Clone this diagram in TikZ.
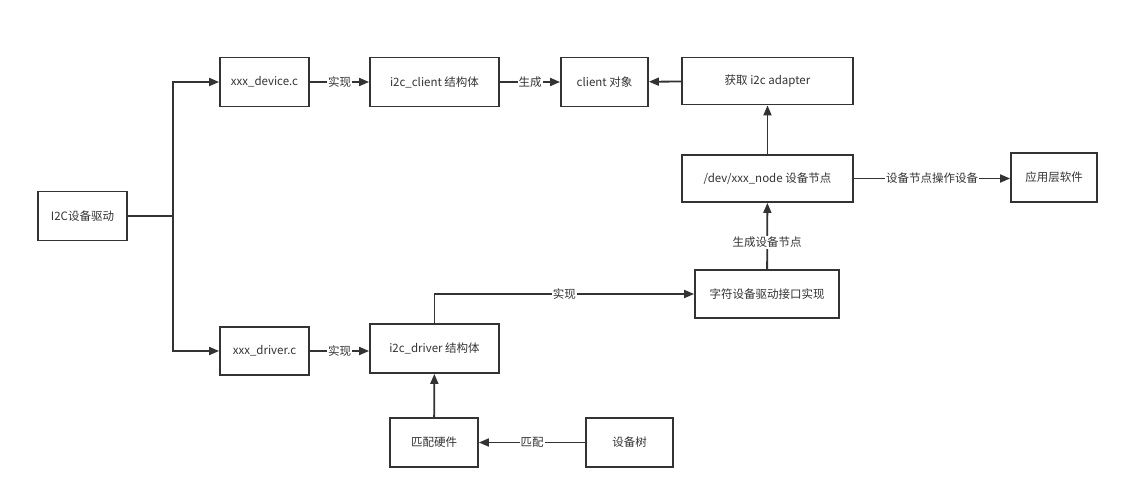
\documentclass[tikz,border=0pt]{standalone}
\usepackage{fontspec}
\setmainfont{Noto Sans CJK SC}
\usepackage{tikz}
\usetikzlibrary{arrows.meta}
\usetikzlibrary{positioning}
\definecolor{inkgray}{HTML}{333333}

\begin{document}
\begin{tikzpicture}[x=1pt, y=-1pt, >={Triangle[length=10pt,width=8pt]},
		box/.style={draw=inkgray, line width=1.8pt, minimum width=89pt, minimum height=49pt, inner sep=0pt, text=inkgray},
		link/.style={->, draw=inkgray, line width=1.8pt},
		lbl/.style={fill=white, inner sep=1pt, text=inkgray}]
			\useasboundingbox (0,0) rectangle (1130,489);
			\fontsize{11.5pt}{13pt}\selectfont
			\node[box] (Drv) at (82.5,216) {I2C设备驱动};
			\node[box] (DevC) at (264.5,82) {xxx\_device.c};
			\node[box, minimum width=129pt] (Client) at (434.5,82) {i2c\_client 结构体};
			\node[box, minimum width=87pt] (ClientObj) at (604.5,82) {client 对象};
			\node[box, minimum width=171pt, minimum height=47pt] (Adapter) at (767.5,81) {获取 i2c adapter};
			\node[box, minimum width=171pt, minimum height=47pt] (DevNode) at (767.5,178.5) {/dev/xxx\_node 设备节点};
			\node[box, minimum width=86pt] (App) at (1054,177.5) {应用层软件};
			\node[box, minimum width=144pt, minimum height=48pt] (CharDev) at (767,294) {字符设备驱动接口实现};
			\node[box, minimum height=48pt] (DrvC) at (264.5,351) {xxx\_driver.c};
			\node[box, minimum width=129pt] (I2cDrv) at (434.5,348.5) {i2c\_driver 结构体};
			\node[box, minimum width=88pt] (Match) at (434,442.5) {匹配硬件};
			\node[box, minimum width=87pt] (DTree) at (629.5,442.5) {设备树};
			\coordinate (Fork) at (173,216);
			\draw[draw=inkgray, line width=1.8pt] (Drv.east) -- (Fork);
			\draw[link] (Fork) |- (DevC.west);
			\draw[link] (Fork) |- (DrvC.west);
			\draw[link] (DevC) -- node[lbl] {实现} (Client);
			\draw[link] (Client) -- node[lbl] {生成} (ClientObj);
			\draw[link] (Adapter) -- (ClientObj);
			\draw[link] (DevNode) -- (Adapter);
			\draw[link] (DevNode.east) -- node[lbl] {设备节点操作设备} (DevNode.east -| App.west);
			\draw[link] (CharDev) -- node[lbl, pos=0.4] {生成设备节点} (DevNode);
			\draw[link] (DrvC.east) -- node[lbl] {实现} (DrvC.east -| I2cDrv.west);
			\draw[link] (I2cDrv.north) |- node[lbl, pos=0.75] {实现} (CharDev.west);
			\draw[link] (Match) -- (I2cDrv);
			\draw[link] (DTree) -- node[lbl] {匹配} (Match);
		\end{tikzpicture}
\end{document}
